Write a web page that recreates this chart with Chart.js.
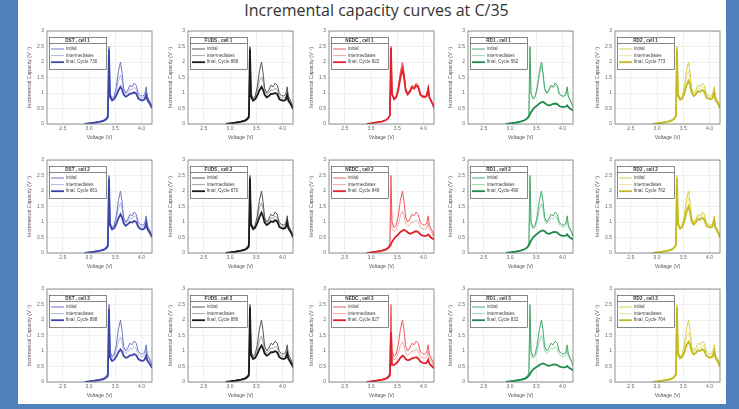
<!DOCTYPE html>
<html>
<head>
<meta charset="utf-8">
<script src="https://cdn.jsdelivr.net/npm/chart.js@4.4.1/dist/chart.umd.min.js"></script>
<style>
  body { margin: 0; width: 739px; height: 409px; background: #4f81bd; overflow: hidden; position: relative; }
  #slide { position: absolute; left: 18px; top: 0; width: 708px; height: 404px; background: #fff; }
  #title { position: absolute; left: 7px; top: 0; width: 739px; text-align: center; font: 16px 'Open Sans', sans-serif; line-height: 20px; color: #333; }
  .cell { position: absolute; }
</style>
</head>
<body>
<div id="slide"></div>
<div id="title">Incremental capacity curves at C/35</div>
<div id="grid"></div>
<script>
// voltage grid shared by every curve
const voltage = [2.92, 3.00, 3.10, 3.20, 3.28, 3.33, 3.36, 3.38, 3.40, 3.44, 3.48, 3.52, 3.56, 3.60, 3.63, 3.66,
  3.70, 3.74, 3.78, 3.82, 3.86, 3.90, 3.94, 3.98, 4.02, 4.06, 4.09, 4.11, 4.14, 4.18, 4.20];
const voltTicks = [2.5, 3.0, 3.5, 4.0];

const profiles = ['DST', 'FUDS', 'NEDC', 'RD1', 'RD2'];
const finalCycles = [[730, 661, 898], [866, 670, 886], [822, 849, 827], [562, 490, 822], [773, 762, 764]];

// fresh cell (looks the same in every panel)
const initialIC = [0, 0.02, 0.05, 0.08, 0.13, 0.2, 0.3, 2.5, 1.0, 0.82, 0.9, 1.2, 1.7, 2.0, 1.65, 1.15, 1.0, 1.1, 1.25, 1.2, 1.32, 1.25, 0.98, 0.92, 0.9, 0.95, 1.2, 0.9, 0.8, 0.65, 0.55];

const dstCell1Mid = [0, 0.02, 0.05, 0.08, 0.12, 0.18, 0.27, 2.45, 0.95, 0.8, 0.86, 1.05, 1.4, 1.58, 1.4, 1.05, 0.95, 1.02, 1.12, 1.1, 1.18, 1.12, 0.9, 0.86, 0.84, 0.88, 1.08, 0.84, 0.75, 0.62, 0.52];
const dstCell1Final = [0, 0.02, 0.04, 0.07, 0.1, 0.15, 0.22, 2.4, 0.88, 0.76, 0.8, 0.92, 1.08, 1.2, 1.12, 0.95, 0.88, 0.92, 0.98, 0.98, 1.02, 0.98, 0.82, 0.78, 0.76, 0.8, 0.95, 0.78, 0.7, 0.58, 0.5];
const dstCell2Mid = [0, 0.02, 0.05, 0.08, 0.12, 0.18, 0.26, 2.45, 0.96, 0.8, 0.87, 1.08, 1.45, 1.62, 1.42, 1.06, 0.96, 1.03, 1.14, 1.1, 1.2, 1.14, 0.9, 0.86, 0.84, 0.88, 1.1, 0.85, 0.76, 0.62, 0.52];
const dstCell2Final = [0, 0.02, 0.04, 0.07, 0.1, 0.15, 0.22, 2.4, 0.9, 0.76, 0.8, 0.94, 1.12, 1.25, 1.15, 0.96, 0.88, 0.93, 1.0, 0.98, 1.04, 1.0, 0.83, 0.78, 0.76, 0.8, 0.98, 0.78, 0.7, 0.58, 0.5];
const dstCell3Mid = [0, 0.02, 0.05, 0.08, 0.12, 0.18, 0.26, 2.45, 0.94, 0.78, 0.84, 1.0, 1.3, 1.45, 1.3, 1.0, 0.92, 0.98, 1.08, 1.06, 1.14, 1.08, 0.88, 0.84, 0.82, 0.86, 1.05, 0.82, 0.74, 0.6, 0.5];
const dstCell3Final = [0, 0.02, 0.04, 0.06, 0.09, 0.14, 0.2, 2.35, 0.8, 0.68, 0.72, 0.82, 0.96, 1.05, 0.98, 0.84, 0.78, 0.8, 0.86, 0.86, 0.9, 0.86, 0.74, 0.7, 0.68, 0.72, 0.85, 0.7, 0.62, 0.52, 0.45];

const fudsCell1Mid = [0, 0.02, 0.05, 0.08, 0.12, 0.18, 0.27, 2.45, 0.95, 0.8, 0.85, 1.04, 1.38, 1.52, 1.36, 1.04, 0.94, 1.0, 1.1, 1.08, 1.16, 1.1, 0.88, 0.85, 0.83, 0.87, 1.08, 0.83, 0.74, 0.6, 0.5];
const fudsCell1Final = [0, 0.02, 0.04, 0.07, 0.1, 0.15, 0.22, 2.4, 0.88, 0.75, 0.8, 0.92, 1.08, 1.2, 1.1, 0.94, 0.86, 0.9, 0.97, 0.97, 1.0, 0.96, 0.8, 0.77, 0.75, 0.78, 0.94, 0.76, 0.68, 0.56, 0.48];
const fudsCell2Mid = [0, 0.02, 0.05, 0.08, 0.12, 0.18, 0.27, 2.45, 0.96, 0.8, 0.87, 1.08, 1.46, 1.62, 1.42, 1.06, 0.96, 1.03, 1.14, 1.1, 1.2, 1.13, 0.9, 0.86, 0.84, 0.88, 1.1, 0.85, 0.76, 0.62, 0.52];
const fudsCell2Final = [0, 0.02, 0.04, 0.07, 0.1, 0.15, 0.22, 2.4, 0.9, 0.77, 0.82, 0.96, 1.16, 1.3, 1.18, 0.98, 0.9, 0.95, 1.02, 1.0, 1.06, 1.02, 0.84, 0.8, 0.78, 0.82, 1.0, 0.8, 0.72, 0.6, 0.5];
const fudsCell3Mid = [0, 0.02, 0.05, 0.08, 0.12, 0.18, 0.27, 2.45, 0.94, 0.79, 0.85, 1.02, 1.34, 1.48, 1.32, 1.02, 0.93, 1.0, 1.1, 1.08, 1.15, 1.1, 0.88, 0.84, 0.82, 0.86, 1.06, 0.82, 0.74, 0.6, 0.5];
const fudsCell3Final = [0, 0.02, 0.04, 0.07, 0.1, 0.15, 0.22, 2.4, 0.86, 0.74, 0.78, 0.9, 1.06, 1.18, 1.08, 0.92, 0.85, 0.89, 0.96, 0.96, 1.0, 0.95, 0.8, 0.76, 0.74, 0.77, 0.93, 0.75, 0.67, 0.55, 0.47];

const nedcCell1Mid = [0, 0.02, 0.05, 0.08, 0.13, 0.2, 0.29, 2.5, 0.98, 0.82, 0.88, 1.15, 1.6, 1.9, 1.58, 1.12, 0.98, 1.08, 1.22, 1.18, 1.28, 1.22, 0.96, 0.9, 0.88, 0.93, 1.17, 0.88, 0.78, 0.64, 0.54];
const nedcCell1Final = [0, 0.02, 0.05, 0.08, 0.12, 0.19, 0.28, 2.45, 0.96, 0.8, 0.86, 1.1, 1.5, 1.78, 1.5, 1.08, 0.95, 1.04, 1.18, 1.14, 1.24, 1.18, 0.94, 0.88, 0.86, 0.9, 1.14, 0.86, 0.76, 0.62, 0.52];
const nedcCell2Mid = [0, 0.02, 0.05, 0.08, 0.12, 0.18, 0.25, 2.0, 0.8, 0.7, 0.76, 0.92, 1.2, 1.35, 1.2, 0.95, 0.86, 0.92, 1.0, 1.0, 1.06, 1.0, 0.82, 0.78, 0.76, 0.8, 0.98, 0.78, 0.7, 0.58, 0.5];
const nedcCell2Final = [0, 0.02, 0.04, 0.07, 0.11, 0.16, 0.22, 0.28, 0.36, 0.46, 0.54, 0.6, 0.68, 0.72, 0.75, 0.72, 0.66, 0.62, 0.64, 0.68, 0.7, 0.68, 0.6, 0.56, 0.55, 0.56, 0.6, 0.56, 0.5, 0.46, 0.42];
const nedcCell3Mid = [0, 0.02, 0.05, 0.08, 0.12, 0.18, 0.25, 2.2, 0.85, 0.72, 0.78, 0.94, 1.18, 1.3, 1.18, 0.95, 0.87, 0.92, 1.0, 1.0, 1.06, 1.0, 0.82, 0.78, 0.76, 0.8, 0.98, 0.78, 0.7, 0.58, 0.5];
const nedcCell3Final = [0, 0.02, 0.04, 0.07, 0.1, 0.15, 0.21, 1.6, 0.55, 0.55, 0.6, 0.68, 0.78, 0.85, 0.82, 0.74, 0.7, 0.72, 0.76, 0.78, 0.8, 0.76, 0.66, 0.62, 0.6, 0.62, 0.72, 0.6, 0.54, 0.48, 0.44];

const rd1Cell1Mid = [0, 0.02, 0.05, 0.08, 0.13, 0.2, 0.29, 2.4, 0.95, 0.8, 0.86, 1.12, 1.58, 1.86, 1.55, 1.1, 0.97, 1.06, 1.2, 1.16, 1.26, 1.2, 0.95, 0.9, 0.88, 0.92, 1.15, 0.87, 0.77, 0.63, 0.53];
const rd1Cell1Final = [0, 0.02, 0.04, 0.08, 0.12, 0.18, 0.24, 0.3, 0.38, 0.48, 0.55, 0.6, 0.66, 0.7, 0.72, 0.68, 0.62, 0.6, 0.62, 0.65, 0.66, 0.64, 0.58, 0.55, 0.55, 0.56, 0.6, 0.55, 0.5, 0.46, 0.42];
const rd1Cell2Mid = [0, 0.02, 0.05, 0.08, 0.12, 0.19, 0.27, 2.3, 0.9, 0.78, 0.84, 1.05, 1.4, 1.6, 1.4, 1.04, 0.94, 1.0, 1.12, 1.1, 1.18, 1.12, 0.9, 0.86, 0.84, 0.88, 1.08, 0.84, 0.75, 0.62, 0.52];
const rd1Cell2Final = [0, 0.02, 0.04, 0.08, 0.12, 0.18, 0.25, 0.32, 0.4, 0.5, 0.57, 0.62, 0.68, 0.72, 0.73, 0.7, 0.64, 0.62, 0.64, 0.67, 0.68, 0.66, 0.6, 0.56, 0.55, 0.56, 0.6, 0.55, 0.5, 0.46, 0.42];
const rd1Cell3Mid = [0, 0.02, 0.05, 0.08, 0.12, 0.18, 0.26, 2.2, 0.88, 0.76, 0.82, 1.0, 1.32, 1.5, 1.32, 1.0, 0.92, 0.98, 1.08, 1.06, 1.14, 1.08, 0.88, 0.84, 0.82, 0.86, 1.04, 0.82, 0.74, 0.6, 0.5];
const rd1Cell3Final = [0, 0.02, 0.04, 0.07, 0.1, 0.15, 0.2, 0.26, 0.32, 0.4, 0.46, 0.5, 0.55, 0.58, 0.6, 0.58, 0.54, 0.52, 0.54, 0.56, 0.57, 0.55, 0.5, 0.48, 0.47, 0.48, 0.52, 0.48, 0.44, 0.4, 0.37];

const rd2Cell1Mid = [0, 0.02, 0.05, 0.08, 0.13, 0.2, 0.29, 2.45, 0.96, 0.8, 0.86, 1.1, 1.5, 1.72, 1.48, 1.08, 0.96, 1.04, 1.16, 1.13, 1.22, 1.16, 0.92, 0.88, 0.86, 0.9, 1.12, 0.86, 0.76, 0.62, 0.52];
const rd2Cell1Final = [0, 0.02, 0.04, 0.07, 0.11, 0.17, 0.25, 2.4, 0.92, 0.78, 0.82, 0.98, 1.24, 1.4, 1.26, 1.0, 0.9, 0.96, 1.06, 1.04, 1.1, 1.05, 0.86, 0.82, 0.8, 0.84, 1.02, 0.8, 0.72, 0.6, 0.5];
const rd2Cell2Mid = [0, 0.02, 0.05, 0.08, 0.13, 0.2, 0.29, 2.45, 0.97, 0.81, 0.87, 1.12, 1.54, 1.76, 1.5, 1.09, 0.97, 1.05, 1.18, 1.14, 1.24, 1.18, 0.94, 0.89, 0.87, 0.91, 1.14, 0.87, 0.77, 0.63, 0.53];
const rd2Cell2Final = [0, 0.02, 0.04, 0.07, 0.11, 0.17, 0.26, 2.4, 0.93, 0.79, 0.84, 1.02, 1.32, 1.5, 1.32, 1.02, 0.92, 0.99, 1.1, 1.07, 1.14, 1.08, 0.88, 0.84, 0.82, 0.86, 1.06, 0.82, 0.74, 0.6, 0.5];
const rd2Cell3Mid = [0, 0.02, 0.05, 0.08, 0.12, 0.19, 0.28, 2.45, 0.95, 0.8, 0.85, 1.06, 1.42, 1.6, 1.42, 1.05, 0.95, 1.02, 1.13, 1.1, 1.18, 1.12, 0.9, 0.86, 0.84, 0.88, 1.08, 0.84, 0.75, 0.62, 0.52];
const rd2Cell3Final = [0, 0.02, 0.04, 0.07, 0.1, 0.16, 0.24, 2.4, 0.9, 0.77, 0.81, 0.95, 1.18, 1.3, 1.2, 0.98, 0.89, 0.94, 1.02, 1.0, 1.06, 1.01, 0.84, 0.8, 0.78, 0.82, 0.99, 0.79, 0.71, 0.59, 0.49];

const midCurves = [
  [dstCell1Mid, dstCell2Mid, dstCell3Mid],
  [fudsCell1Mid, fudsCell2Mid, fudsCell3Mid],
  [nedcCell1Mid, nedcCell2Mid, nedcCell3Mid],
  [rd1Cell1Mid, rd1Cell2Mid, rd1Cell3Mid],
  [rd2Cell1Mid, rd2Cell2Mid, rd2Cell3Mid]
];
const finalCurves = [
  [dstCell1Final, dstCell2Final, dstCell3Final],
  [fudsCell1Final, fudsCell2Final, fudsCell3Final],
  [nedcCell1Final, nedcCell2Final, nedcCell3Final],
  [rd1Cell1Final, rd1Cell2Final, rd1Cell3Final],
  [rd2Cell1Final, rd2Cell2Final, rd2Cell3Final]
];

// colours: final / initial / intermediates
const palette = [
  ['#3d46a8', '#6e76c8', '#a9aee0'],
  ['#1a1a1a', '#555555', '#9a9a9a'],
  ['#e0202a', '#ee5a5a', '#f39c9c'],
  ['#1e8a4a', '#45a86a', '#96d0aa'],
  ['#c2ba1e', '#d6d048', '#e6e292']
];

// panel layout (pixels of the axes box)
const axLeft = [47, 188, 329, 468, 615];
const axTop = [31, 160, 289];
const AX_W = 105, AX_H = 93, PAD_L = 26, PAD_T = 6, PAD_R = 4, PAD_B = 22;
const FONT = "'Liberation Sans', Arial, sans-serif";

const toPoints = arr => voltage.map((v, i) => ({ x: v, y: arr[i] }));

// box around the axes + in-axes legend like matlab
const panelDecor = {
  id: 'panelDecor',
  afterDraw(chart, args, opts) {
    const { ctx, chartArea: { left, top, right, bottom } } = chart;
    ctx.save();
    ctx.strokeStyle = '#777';
    ctx.lineWidth = 0.8;
    ctx.strokeRect(left, top, right - left, bottom - top);

    const x = left + 2, y = top + 6, w = 57, h = 32;
    ctx.fillStyle = '#fff';
    ctx.fillRect(x, y, w, h);
    ctx.strokeStyle = '#555';
    ctx.lineWidth = 0.7;
    ctx.strokeRect(x + 0.5, y + 0.5, w, h);
    ctx.beginPath();
    ctx.moveTo(x, y + 6.5);
    ctx.lineTo(x + w, y + 6.5);
    ctx.stroke();

    ctx.fillStyle = '#333';
    ctx.textBaseline = 'middle';
    ctx.textAlign = 'center';
    ctx.font = 'bold 4.6px ' + FONT;
    ctx.fillText(opts.title, x + w / 2, y + 3.5);

    ctx.textAlign = 'left';
    ctx.font = '4.6px ' + FONT;
    opts.entries.forEach((e, i) => {
      const ey = y + 12 + i * 6.6;
      ctx.strokeStyle = e.color;
      ctx.lineWidth = e.width;
      ctx.beginPath();
      ctx.moveTo(x + 2, ey);
      ctx.lineTo(x + 15, ey);
      ctx.stroke();
      ctx.fillStyle = '#444';
      ctx.fillText(e.label, x + 17, ey);
    });
    ctx.restore();
  }
};

const grid = document.getElementById('grid');

profiles.forEach((name, p) => {
  [0, 1, 2].forEach(c => {
    const div = document.createElement('div');
    div.className = 'cell';
    div.style.left = (axLeft[p] - PAD_L) + 'px';
    div.style.top = (axTop[c] - PAD_T) + 'px';
    const canvas = document.createElement('canvas');
    canvas.width = PAD_L + AX_W + PAD_R;
    canvas.height = PAD_T + AX_H + PAD_B;
    div.appendChild(canvas);
    grid.appendChild(div);

    const [finalCol, initCol, midCol] = palette[p];

    new Chart(canvas, {
      type: 'line',
      data: {
        datasets: [
          { label: 'final', data: toPoints(finalCurves[p][c]), borderColor: finalCol, borderWidth: 1.8, order: 0 },
          { label: 'initial', data: toPoints(initialIC), borderColor: initCol, borderWidth: 1, order: 1 },
          { label: 'intermediates', data: toPoints(midCurves[p][c]), borderColor: midCol, borderWidth: 0.9, order: 2 }
        ]
      },
      options: {
        responsive: false,
        animation: false,
        events: [],
        elements: { point: { radius: 0 }, line: { tension: 0 } },
        layout: { padding: { left: 0, top: PAD_T, right: PAD_R, bottom: 0 } },
        scales: {
          x: {
            type: 'linear',
            min: 2.2,
            max: 4.2,
            afterBuildTicks: s => { s.ticks = voltTicks.map(v => ({ value: v })); },
            afterFit: s => { s.height = PAD_B; },
            ticks: { color: '#666', font: { size: 5, family: FONT }, padding: 2, maxRotation: 0, callback: v => v.toFixed(1) },
            grid: { color: '#e4e4e4', lineWidth: 0.6, drawTicks: false },
            border: { display: false },
            title: { display: true, text: 'Voltage (V)', color: '#555', font: { size: 5.2, family: FONT }, padding: { top: 0, bottom: 5 } }
          },
          y: {
            min: 0,
            max: 3,
            afterFit: s => { s.width = PAD_L; },
            ticks: { stepSize: 0.5, color: '#666', font: { size: 5, family: FONT }, padding: 3, callback: v => String(Math.round(v * 10) / 10) },
            grid: { color: '#e4e4e4', lineWidth: 0.6, drawTicks: false },
            border: { display: false },
            title: { display: true, text: 'Incremental Capacity (V⁻¹)', color: '#555', font: { size: 5.2, family: FONT }, padding: { top: 5, bottom: 0 } }
          }
        },
        plugins: {
          legend: { display: false },
          tooltip: { enabled: false },
          panelDecor: {
            title: name + ' , cell ' + (c + 1),
            entries: [
              { label: 'initial', color: initCol, width: 1 },
              { label: 'intermediates', color: midCol, width: 0.9 },
              { label: 'final, Cycle ' + finalCycles[p][c], color: finalCol, width: 1.8 }
            ]
          }
        }
      },
      plugins: [panelDecor]
    });
  });
});
</script>
</body>
</html>
